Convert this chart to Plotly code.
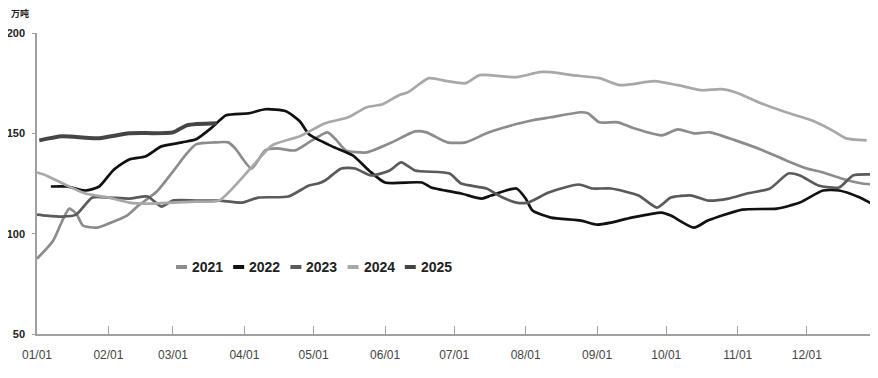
import plotly.graph_objects as go

BASE_YEAR = "2021"

d2021 = ["01-01", "01-08", "01-12", "01-15", "01-18", "01-21", "01-27", "02-01", "02-09", "02-14",
         "02-22", "03-01", "03-07", "03-11", "03-20", "03-25", "03-28", "04-04", "04-10", "04-15",
         "04-23", "04-29", "05-07", "05-11", "05-15", "05-24", "06-04", "06-14", "06-19", "06-28",
         "07-06", "07-15", "07-23", "08-04", "08-12", "08-25", "08-28", "09-02", "09-10", "09-17",
         "09-29", "10-06", "10-13", "10-20", "10-31", "11-12", "11-22", "12-01", "12-08", "12-16",
         "12-25", "12-30"]
v2021 = [87.5, 96.5, 106.5, 112.5, 110, 104, 103, 105, 109, 114,
         121, 131, 140, 144.5, 145.5, 145.5, 142.5, 132.5, 141.5, 142.5,
         141.5, 145.5, 150.5, 146.5, 141.5, 140.5, 145.5, 151, 150.5, 145.5,
         145.5, 150, 153, 156.5, 158, 160.5, 160, 155.5, 155.5, 152.5,
         149, 152, 150, 150.5, 146.5, 141.5, 136.5, 132.5, 130.5, 127.5,
         125, 124.5]

d2022 = ["01-07", "01-14", "01-22", "01-28", "02-03", "02-10", "02-17", "02-24", "03-05", "03-11",
         "03-18", "03-24", "04-03", "04-10", "04-19", "04-25", "04-29", "05-09", "05-18", "05-25",
         "06-01", "06-17", "06-21", "07-04", "07-13", "07-17", "07-28", "08-01", "08-04", "08-12",
         "08-25", "09-01", "09-07", "09-16", "09-29", "10-03", "10-13", "10-19", "11-03", "11-18",
         "11-28", "12-08", "12-15", "12-24", "12-29"]
v2022 = [123.5, 123.5, 121.5, 123.5, 131.5, 137, 138.5, 143.5, 145.5, 147,
         153, 159, 160, 162, 161, 156, 149.5, 143.5, 139, 131.5,
         125.5, 125.5, 123, 120, 117.5, 119, 122.5, 117.5, 111.5, 108,
         106.5, 104.5, 105.5, 108, 110.5, 109, 103, 106.5, 112, 112.5,
         115.5, 121.5, 121.5, 118, 115]

d2023 = ["01-01", "01-05", "01-12", "01-18", "01-25", "02-01", "02-10", "02-18", "02-24", "03-01",
         "03-11", "03-21", "03-31", "04-07", "04-20", "04-29", "05-03", "05-06", "05-13", "05-19",
         "05-26", "06-03", "06-08", "06-14", "06-29", "07-04", "07-15", "07-22", "07-28", "08-02",
         "08-11", "08-24", "08-30", "09-07", "09-19", "09-27", "10-03", "10-12", "10-19", "10-28",
         "11-05", "11-15", "11-23", "11-28", "12-06", "12-15", "12-21", "12-29"]
v2023 = [109.5, 109, 108.5, 109.5, 118, 118, 117.5, 118.5, 113.5, 116.5,
         116.5, 116.5, 115.5, 118, 118.5, 124, 125, 126.5, 132.5, 132.5,
         129, 131.5, 135.5, 131.5, 130, 125, 122.5, 118, 115.5, 115.5,
         120.5, 124.5, 122.5, 122.5, 119, 113, 118, 119, 116.5, 117.5,
         120, 122.5, 130, 129, 124, 123, 129, 129.5]

d2024 = ["01-01", "01-05", "01-14", "01-22", "02-01", "02-10", "02-19", "03-01", "03-11", "03-21",
         "04-04", "04-13", "04-25", "05-06", "05-16", "05-24", "05-31", "06-07", "06-11", "06-20",
         "06-28", "07-06", "07-12", "07-28", "08-07", "08-12", "08-21", "09-02", "09-11", "09-26",
         "10-06", "10-16", "10-25", "10-31", "11-10", "11-22", "12-03", "12-12", "12-18", "12-27"]
v2024 = [130.5, 129, 124, 120, 118, 115.5, 115, 115.5, 116, 116.5,
         133, 144, 148.5, 155, 158, 163, 164.5, 169, 170.5, 177.5,
         176, 175, 179, 178, 180.5, 180.5, 179, 177.5, 174, 176,
         174, 171.5, 172, 170.5, 165.5, 160.5, 156.5, 151.5, 147.5, 146.5]

d2025 = ["01-02", "01-12", "01-27", "02-10", "03-01", "03-07", "03-20"]
v2025 = [146.5, 148.5, 147.5, 150, 150.5, 154, 155]

years = ["2021", "2022", "2023", "2024", "2025"]
dates = [d2021, d2022, d2023, d2024, d2025]
values = [v2021, v2022, v2023, v2024, v2025]
colors = ["#8c8c8c", "#111111", "#5a5a5a", "#a8a8a8", "#454545"]
widths = [2.7, 2.7, 2.7, 2.7, 4]

y_ticks = [50, 100, 150, 200]

FONT = "Liberation Sans, Arial, sans-serif"

# page offset from default body margin
OFF = 8
W, H = 878 - OFF, 378 - OFF
# plot area in page pixels: x 37..876, y 33..334
PL, PR, PT, PB = 37, 876, 33, 334
ML, MT = PL - OFF, PT - OFF
MR, MB = W - (PR - OFF), H - (PB - OFF)
PW, PH = PR - PL, PB - PT


def px_x(p):
    return (p - PL) / PW


def px_y(p):
    return (PB - p) / PH


fig = go.Figure()
for yr, ds, vs, c, w in zip(years, dates, values, colors, widths):
    fig.add_trace(go.Scatter(
        x=[f"{BASE_YEAR}-{d}" for d in ds], y=vs, mode="lines", name=yr,
        line=dict(color=c, width=w, shape="spline", smoothing=0.6),
        showlegend=False,
    ))

# manual legend (swatch + text)
shapes = []
annotations = []
leg_x0, leg_step, leg_y = 176, 57.2, 267
for i, (yr, c) in enumerate(zip(years, colors)):
    sx = leg_x0 + i * leg_step
    shapes.append(dict(type="line", xref="paper", yref="paper",
                       x0=px_x(sx), x1=px_x(sx + 11), y0=px_y(leg_y), y1=px_y(leg_y),
                       line=dict(color=c, width=4)))
    annotations.append(dict(text=yr, xref="paper", yref="paper", x=px_x(sx + 14), y=px_y(leg_y),
                            xanchor="left", yanchor="middle", showarrow=False,
                            font=dict(family=FONT, size=14, color="#222222", weight="bold")))

annotations.append(dict(
    text="万吨", xref="paper", yref="paper", x=px_x(9), y=px_y(14), xanchor="left",
    yanchor="middle", showarrow=False,
    font=dict(family="Noto Sans CJK SC", size=9, color="#222222", weight="bold"),
))

fig.update_layout(
    width=W, height=H,
    margin=dict(l=ML, r=MR, t=MT, b=MB, autoexpand=False),
    paper_bgcolor="white", plot_bgcolor="white",
    font=dict(family=FONT, color="#222222"),
    showlegend=False,
    xaxis=dict(
        type="date", range=[f"{BASE_YEAR}-01-01", f"{BASE_YEAR}-12-31"],
        tick0=f"{BASE_YEAR}-01-01", dtick="M1", tickformat="%m/%d",
        showgrid=False, zeroline=False, automargin=False,
        showline=True, linecolor="#a0a0a0", linewidth=1.5,
        ticks="inside", ticklen=8, tickcolor="#a0a0a0", tickwidth=1,
        tickfont=dict(family=FONT, size=12, color="#444444"),
        ticklabelstandoff=9,
    ),
    yaxis=dict(
        range=[50, 200], tickvals=y_ticks, showgrid=False, zeroline=False, automargin=False,
        showline=True, linecolor="#a0a0a0", linewidth=1.5,
        ticks="outside", ticklen=3, tickcolor="#a0a0a0",
        tickfont=dict(family=FONT, size=11, color="#222222", weight="bold"),
        ticklabelstandoff=5,
    ),
    shapes=shapes,
    annotations=annotations,
)

fig.write_html("out.html")
